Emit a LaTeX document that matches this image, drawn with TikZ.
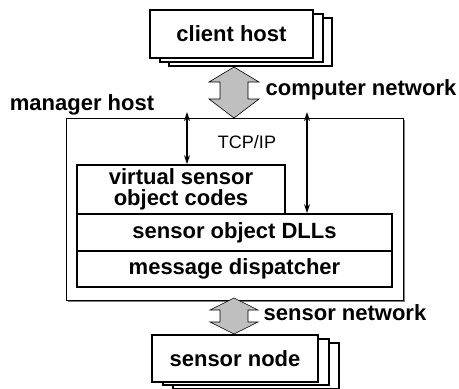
\documentclass[tikz,border=0pt]{standalone}
\usepackage{fontspec}
\setmainfont{Liberation Sans}
\usetikzlibrary{arrows.meta}
\begin{document}
\begin{tikzpicture}[x=1pt,y=-1pt,
  lbl/.style={font=\fontsize{22}{22}\selectfont\bfseries, inner sep=0pt},
  hostbox/.style={draw, line width=1.4pt, fill=white, inner sep=0pt},
  layerbox/.style={draw, line width=1.8pt, inner sep=0pt, font=\fontsize{22}{21}\selectfont\bfseries, align=center},
  bigarrow/.style={draw, line width=0.6pt, fill=gray!50},
  thinarrow/.style={line width=1.3pt, {Stealth[length=9pt,width=6pt]}-{Stealth[length=9pt,width=6pt]}}]
\useasboundingbox (0,0) rectangle (459,389);

% client host (stacked)
\node[hostbox, minimum width=163pt, minimum height=48pt] (c3) at (250.5,42) {};
\node[hostbox, minimum width=163pt, minimum height=48pt] (c2) at (241.5,38) {};
\node[hostbox, minimum width=163pt, minimum height=48pt, lbl] (client) at (231.5,34) {client host};

% manager host
\draw[gray, line width=1.2pt] (68,301.5) -- (404.5,301.5) -- (404.5,120);
\node[draw, line width=0.8pt, minimum width=337pt, minimum height=182pt, inner sep=0pt] (mgr) at (234.5,209) {};
\node[lbl] (mgrlbl) at (82,105) {manager host};

% layers
\node[layerbox, minimum width=208pt, minimum height=49pt] (virt) at (181,189.5) {virtual sensor\\object codes};
\node[layerbox, minimum width=315pt, minimum height=37pt] (dll) at (234.5,232.5) {sensor object DLLs};
\node[layerbox, minimum width=315pt, minimum height=36pt] (disp) at (234.5,269) {message dispatcher};

% computer network big arrow
\coordinate (cn) at (234,67);
\draw[bigarrow] (234,67) -- (259,82) -- (248,82) -- (248,99) -- (259,99) -- (234,118)
  -- (209,99) -- (220,99) -- (220,82) -- (209,82) -- cycle;
\node[lbl] (cnlbl) at (361,90) {computer network};

% TCP/IP thin arrows
\node[font=\fontsize{18}{18}\selectfont, inner sep=0pt] (tcp) at (247,142) {TCP/IP};
\coordinate (t1) at (187,112);
\coordinate (t2) at (307,112);
\draw[thinarrow] (t1) -- (t1 |- virt.north);
\draw[thinarrow] (t2) -- (t2 |- dll.north);

% sensor network big arrow
\draw[bigarrow] (234,298) -- (258,310) -- (248,310) -- (248,322) -- (258,322) -- (234,334)
  -- (210,322) -- (220,322) -- (220,310) -- (210,310) -- cycle;
\node[lbl] (snlbl) at (345,313) {sensor network};

% sensor node (stacked)
\node[hostbox, minimum width=166pt, minimum height=46pt] (s3) at (256,366) {};
\node[hostbox, minimum width=166pt, minimum height=46pt] (s2) at (246,362) {};
\node[hostbox, minimum width=166pt, minimum height=47pt, lbl] (snode) at (235,358.5) {sensor node};
\end{tikzpicture}
\end{document}
